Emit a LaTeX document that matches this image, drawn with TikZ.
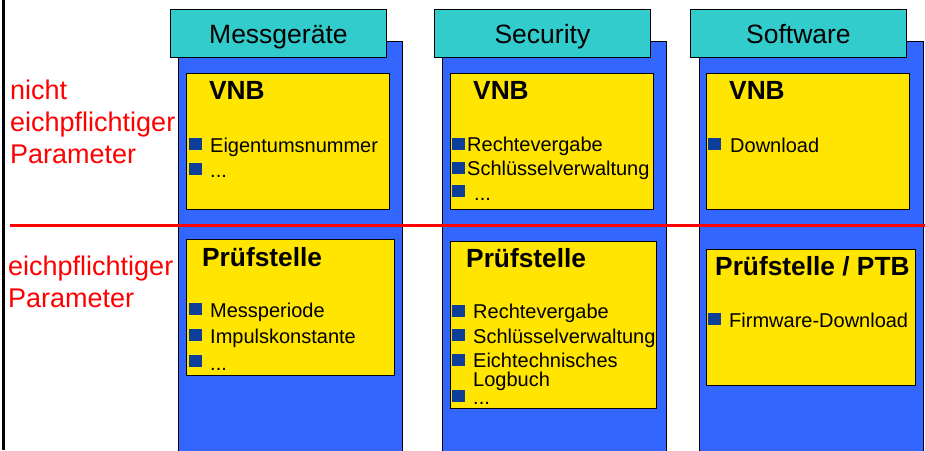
\documentclass[tikz,border=0pt]{standalone}
\usepackage{fontspec}
\setmainfont{Liberation Sans}
\definecolor{tealhdr}{HTML}{33CCCC}
\definecolor{colblue}{HTML}{3366FF}
\definecolor{yelbox}{HTML}{FFE500}
\definecolor{bulblue}{HTML}{0D3F99}
\definecolor{redtxt}{HTML}{FF0000}
\begin{document}
\begin{tikzpicture}[x=1pt,y=-1pt,
  colbox/.style={draw=black,line width=0.8pt,fill=colblue,anchor=north west,inner sep=0pt,minimum width=224pt,minimum height=420pt},
  hdr/.style={draw=black,line width=0.8pt,fill=tealhdr,anchor=north west,inner xsep=0pt,inner ysep=0pt,minimum width=216pt,text height=34pt,text depth=14pt,font=\fontsize{26.5}{26.5}\selectfont},
  ybox/.style={draw=black,line width=0.9pt,fill=yelbox,anchor=north west,inner sep=0pt},
  ttl/.style={anchor=base west,inner sep=0pt,font=\fontsize{26.3}{26.3}\selectfont\bfseries},
  itm/.style={anchor=base west,inner sep=0pt,font=\fontsize{20}{20}\selectfont},
  sq/.style={fill=bulblue,anchor=north west,inner sep=0pt,minimum width=12.5pt,minimum height=12pt},
  rtxt/.style={anchor=base west,inner sep=0pt,text=redtxt,font=\fontsize{27}{27}\selectfont}
]
\useasboundingbox (0,0) rectangle (925,450);
\fill[white] (0,0) rectangle (925,450);
% left frame line
\coordinate (ltop) at (3.5,0);
\coordinate (lbot) at (3.5,450);
\draw[line width=3pt] (ltop) -- (lbot);

% columns
\node[colbox] (c1) at (178,41) {};
\node[colbox] (c2) at (442,41) {};
\node[colbox] (c3) at (699,41) {};

% headers
\node[hdr] (h1) at (170,9) {Messgeräte};
\node[hdr] (h2) at (434,9) {Security};
\node[hdr] (h3) at (690,9) {Software};

% upper yellow boxes
\node[ybox,minimum width=203pt,minimum height=136pt] (u1) at (186,73) {};
\node[ybox,minimum width=203pt,minimum height=136pt] (u2) at (450,73) {};
\node[ybox,minimum width=203pt,minimum height=136pt] (u3) at (706,73) {};

% lower yellow boxes
\node[ybox,minimum width=208pt,minimum height=136pt] (l1) at (186,239) {};
\node[ybox,minimum width=206pt,minimum height=167pt] (l2) at (450,241) {};
\node[ybox,minimum width=209pt,minimum height=136pt] (l3) at (706,249) {};

% red separator
\coordinate (rl) at (10,225.5);
\coordinate (rr) at (925,225.5);
\draw[redtxt,line width=3.5pt] (rl) -- (rr);

% red labels
\node[rtxt] (na) at (10,99) {nicht};
\node[rtxt] (nb) at (10,131) {eichpflichtiger};
\node[rtxt] (nc) at (10,163) {Parameter};
\node[rtxt] (ea) at (8,275) {eichpflichtiger};
\node[rtxt] (eb) at (8,307) {Parameter};

% upper titles
\node[ttl] (t1) at (209,99) {VNB};
\node[ttl] (t2) at (473,99) {VNB};
\node[ttl] (t3) at (729,99) {VNB};

% upper items col1
\node[sq] (s11) at (189,138) {};
\node[sq] (s12) at (189,163) {};
\node[itm] (i11) at (210,152) {Eigentumsnummer};
\node[itm] (i12) at (210,177) {...};

% upper items col2
\node[sq] (s21) at (452,138) {};
\node[sq] (s22) at (452,162) {};
\node[sq] (s23) at (452,185) {};
\node[itm] (i21) at (467,151) {Rechtevergabe};
\node[itm] (i22) at (467,175) {Schlüsselverwaltung};
\node[itm] (i23) at (474,200) {...};

% upper items col3
\node[sq] (s31) at (708,138) {};
\node[itm] (i31) at (730,152) {Download};

% lower titles
\node[ttl] (p1) at (202,266) {Prüfstelle};
\node[ttl] (p2) at (466,267) {Prüfstelle};
\node[ttl] (p3) at (715,275) {Prüfstelle / PTB};

% lower items col1
\node[sq] (q11) at (189,303) {};
\node[sq] (q12) at (189,329) {};
\node[sq] (q13) at (189,355) {};
\node[itm] (j11) at (210,317) {Messperiode};
\node[itm] (j12) at (210,343) {Impulskonstante};
\node[itm] (j13) at (210,370) {...};

% lower items col2
\node[sq] (q21) at (452,305) {};
\node[sq] (q22) at (452,329) {};
\node[sq] (q23) at (452,354) {};
\node[sq] (q24) at (452,390) {};
\node[itm] (j21) at (473,318) {Rechtevergabe};
\node[itm] (j22) at (473,343) {Schlüsselverwaltung};
\node[itm] (j23) at (473,367) {Eichtechnisches};
\node[itm] (j24) at (473,386) {Logbuch};
\node[itm] (j25) at (473,404) {...};

% lower items col3
\node[sq] (q31) at (708,313) {};
\node[itm] (j31) at (729,327) {Firmware-Download};
\end{tikzpicture}
\end{document}
